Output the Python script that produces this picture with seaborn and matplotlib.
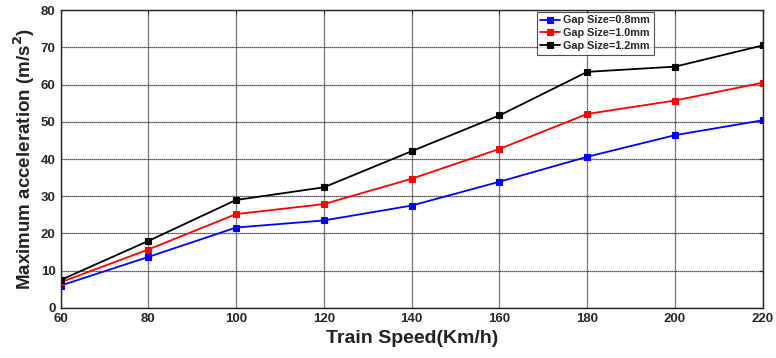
import matplotlib
matplotlib.use("Agg")
import matplotlib.pyplot as plt
import seaborn as sns
import pandas as pd

speeds = [60, 80, 100, 120, 140, 160, 180, 200, 220]
gap_08 = [6.0, 13.7, 21.6, 23.5, 27.5, 33.9, 40.6, 46.4, 50.4]
gap_10 = [6.9, 15.7, 25.2, 27.9, 34.7, 42.7, 52.1, 55.7, 60.5]
gap_12 = [7.5, 18.0, 29.0, 32.4, 42.1, 51.7, 63.4, 64.8, 70.5]
series_names = ["Gap Size=0.8mm", "Gap Size=1.0mm", "Gap Size=1.2mm"]
colors = ["#0000ff", "#ff0000", "#000000"]
x_ticks = [60, 80, 100, 120, 140, 160, 180, 200, 220]
y_ticks = [0, 10, 20, 30, 40, 50, 60, 70, 80]

df = pd.DataFrame({
    "speed": speeds * 3,
    "acc": gap_08 + gap_10 + gap_12,
    "series": [series_names[0]] * len(speeds) + [series_names[1]] * len(speeds) + [series_names[2]] * len(speeds),
})

sns.set_style("white")
plt.rcParams['font.family'] = ['Liberation Sans', 'DejaVu Sans']

fig = plt.figure(figsize=(7.76, 3.58), dpi=100)
ax = fig.add_axes([0.078, 0.1397, 0.905, 0.8323])

sns.lineplot(data=df, x="speed", y="acc", hue="series", palette=colors,
             marker="s", markersize=5, markeredgewidth=0.8, linewidth=1.3, ax=ax,
             legend=True)
for line in ax.get_lines():
    line.set_markeredgecolor(line.get_color())

ax.set_xlim(60, 220)
ax.set_ylim(0, 80)
ax.set_xticks(x_ticks)
ax.set_yticks(y_ticks)
ax.grid(True, color="#222222", linestyle=(0, (1, 0.6)), linewidth=0.9)
ax.tick_params(direction="in", top=True, right=True, length=3, width=0.8, labelsize=9.5)
for lab in ax.get_xticklabels() + ax.get_yticklabels():
    lab.set_fontweight("bold")
for s in ax.spines.values():
    s.set_color("#222222")
    s.set_linewidth(1.0)

ax.set_xlabel("Train Speed(Km/h)", fontsize=14, fontweight="bold", color="#222222", labelpad=4)
ax.set_ylabel("Maximum acceleration (m/s$^\\mathbf{2}$)", fontsize=13.5, fontweight="bold", color="#222222", labelpad=3)

leg = ax.legend(loc="upper left", bbox_to_anchor=(0.678, 0.995), fontsize=7.8, frameon=True,
                fancybox=False, borderpad=0.35, labelspacing=0.25, handlelength=1.8,
                handletextpad=0.3, borderaxespad=0)
leg.get_frame().set_edgecolor("#222222")
leg.get_frame().set_linewidth(0.8)
for t in leg.get_texts():
    t.set_fontweight("bold")
for h in leg.legend_handles:
    h.set_markeredgecolor(h.get_color())

fig.savefig("out.png", dpi=100)
